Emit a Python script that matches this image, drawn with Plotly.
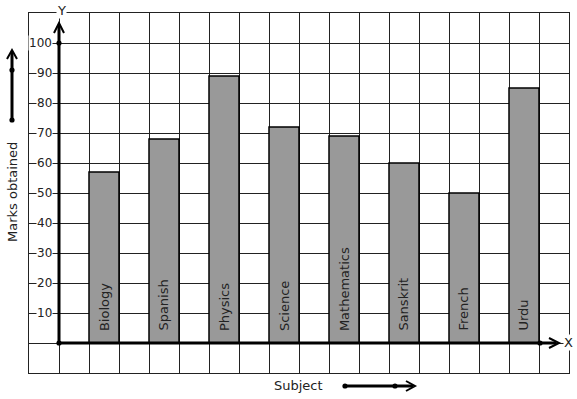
import plotly.graph_objects as go

subjects = ["Biology", "Spanish", "Physics", "Science", "Mathematics", "Sanskrit", "French", "Urdu"]
marks = [57, 68, 89, 72, 69, 60, 50, 85]
y_ticks = [10, 20, 30, 40, 50, 60, 70, 80, 90, 100]

W, H = 577, 399
L, R, T, B = 29, 8, 13, 26
PW, PH = W - L - R, H - T - B

def px(x):
    return (x - L) / PW

def py(y):
    return (H - B - y) / PH

FONT = "DejaVu Sans"
INK = "#222"

xpos = [2 * i + 1.5 for i in range(len(subjects))]

fig = go.Figure()
fig.add_trace(go.Bar(
    x=xpos, y=marks, width=1,
    marker=dict(color="#999999", line=dict(color="black", width=1.5)),
    hoverinfo="skip",
))

shapes = []
annotations = []

def line(x0, y0, x1, y1, w=3):
    shapes.append(dict(type="line", xref="paper", yref="paper",
                       x0=px(x0), y0=py(y0), x1=px(x1), y1=py(y1),
                       line=dict(color="black", width=w), layer="above"))

def dot(x, y, r=2.6):
    shapes.append(dict(type="circle", xref="paper", yref="paper",
                       x0=px(x - r), x1=px(x + r), y0=py(y + r), y1=py(y - r),
                       fillcolor="black", line=dict(color="black", width=0), layer="above"))

def path(pts, w=2):
    d = "M " + " L ".join(f"{px(a)},{py(b)}" for a, b in pts)
    shapes.append(dict(type="path", xref="paper", yref="paper", path=d,
                       line=dict(color="black", width=w), layer="above"))

# Y axis
line(59, 343, 59, 25)
path([(54, 33), (59, 23), (64, 33)])
dot(59, 43)
dot(59, 343)
# X axis
line(59, 343, 556, 343)
path([(549, 338), (559, 343), (549, 348)])
dot(540, 343)
# left indicator arrow
line(12, 120, 12, 52)
path([(7, 59), (12, 50), (17, 59)])
dot(12, 70)
dot(12, 120)
# bottom indicator arrow
line(345, 386, 413, 386)
path([(406, 381), (415, 386), (406, 391)])
dot(345, 386)
dot(395, 386)

for v in y_ticks:
    annotations.append(dict(x=-0.2, y=v, xref="x", yref="y", text=str(v),
                            showarrow=False, xanchor="right", yanchor="middle",
                            bgcolor="white", borderpad=0,
                            font=dict(family=FONT, size=12, color=INK)))

for xi, s in zip(xpos, subjects):
    annotations.append(dict(x=xi, y=3.3, xref="x", yref="y", text=s,
                            showarrow=False, textangle=-90,
                            xanchor="center", yanchor="bottom",
                            font=dict(family=FONT, size=13, color=INK)))

annotations += [
    dict(x=px(61), y=py(10), xref="paper", yref="paper", text="Y", showarrow=False,
         xanchor="center", yanchor="middle", bgcolor="white", borderpad=0,
         font=dict(family=FONT, size=13, color=INK)),
    dict(x=px(568), y=py(342), xref="paper", yref="paper", text="X", showarrow=False,
         xanchor="center", yanchor="middle", bgcolor="white", borderpad=0,
         font=dict(family=FONT, size=13, color=INK)),
    dict(x=px(298), y=py(385), xref="paper", yref="paper", text="Subject", showarrow=False,
         xanchor="center", yanchor="middle",
         font=dict(family=FONT, size=13, color=INK)),
    dict(x=px(12), y=py(192), xref="paper", yref="paper", text="Marks obtained", showarrow=False,
         textangle=-90, xanchor="center", yanchor="middle",
         font=dict(family=FONT, size=13, color=INK)),
]

fig.update_layout(
    width=W, height=H,
    margin=dict(l=L, r=R, t=T, b=B, pad=0),
    paper_bgcolor="white", plot_bgcolor="white",
    showlegend=False,
    shapes=shapes, annotations=annotations,
    xaxis=dict(range=[-1, 17], dtick=1, tick0=0, showgrid=True, gridcolor=INK, gridwidth=1,
               showticklabels=False, zeroline=False, showline=True, linecolor=INK,
               linewidth=1, mirror=True, ticks="", fixedrange=True),
    yaxis=dict(range=[-10, 110], dtick=10, tick0=0, showgrid=True, gridcolor=INK, gridwidth=1,
               showticklabels=False, zeroline=False, showline=True, linecolor=INK,
               linewidth=1, mirror=True, ticks="", fixedrange=True),
)

fig.write_html("out.html", config=dict(displayModeBar=False))
